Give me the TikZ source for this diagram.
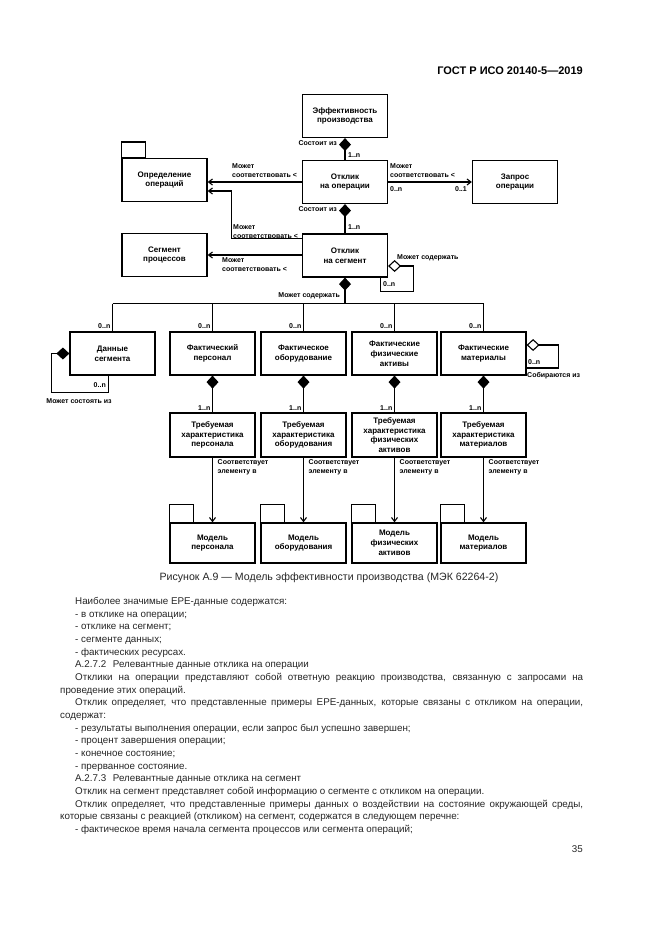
\documentclass[tikz,border=0pt]{standalone}
\usepackage{fontspec}
\setmainfont{Liberation Sans}
\usetikzlibrary{positioning,arrows.meta,calc}
\tikzset{
  blk/.style={draw,line width=1.2pt,minimum width=85pt,minimum height=43pt,inner sep=1pt,
    align=center,font=\fontsize{8}{9.8}\selectfont\bfseries},
  pkg/.style={line width=1.2pt},
  lnk/.style={line width=1.1pt},
  assoc/.style={lnk,-{Straight Barb[length=4pt,width=6pt]}},
  comp/.style={lnk,{Diamond[length=13pt,width=12pt]}-},
  aggr/.style={lnk,{Diamond[open,length=13pt,width=12pt]}-},
  lbl/.style={inner sep=0pt,align=left,font=\fontsize{7}{9}\selectfont\bfseries},
  body/.style={anchor=base west,inner sep=0pt,text=black!85,font=\fontsize{9.8}{12}\selectfont},
}
\begin{document}
\begin{tikzpicture}[x=1pt,y=-1pt]
  \fill[white] (0,0) rectangle (661,935);
  \useasboundingbox (0,0) rectangle (661,935);
  \node[anchor=base east,inner sep=0pt,font=\fontsize{11}{13}\selectfont\bfseries] (hdr) at (583,74) {ГОСТ Р ИСО 20140-5—2019};

  % upper part: performance, responses, definitions
  \node[blk] (eff) at (345,116) {Эффективность\\производства};
  \node[blk] (oresp) at (345,182) {Отклик\\на операции};
  \node[blk] (opdef) at (164.5,180) {Определение\\операций};
  \node[blk] (oreq) at (515,182) {Запрос\\операции};
  \node[blk] (sresp) at (345,255.5) {Отклик\\на сегмент};
  \node[blk] (pseg) at (164.5,255) {Сегмент\\процессов};
  \draw[pkg] (opdef.north west) rectangle ++(24,-16);

  \draw[comp] (eff.south) -- (oresp.north);
  \draw[comp] (oresp.south) -- (sresp.north);
  \draw[assoc] (oresp.west) -- (oresp.west -| opdef.east);
  \draw[assoc] (oresp.east) -- (oreq.west);
  \draw[assoc] ([yshift=-5pt]sresp.north west) -| ($(opdef.east)+(24,11)$) -- ($(opdef.east)+(0,11)$);
  \draw[assoc] (pseg.east -| sresp.west) -- (pseg.east);
  \draw[aggr] ([yshift=-10.5pt]sresp.east) -- ++(25,0) |- ([xshift=-8pt,yshift=-14pt]sresp.south east)
    -- ([xshift=-8pt]sresp.south east);

  \node[lbl,anchor=east] (c1) at (337,143) {Состоит из};
  \node[lbl,anchor=west] (k1) at (348,155) {1..n};
  \node[lbl,anchor=east] (c2) at (337,209) {Состоит из};
  \node[lbl,anchor=west] (k2) at (348,227) {1..n};
  \node[lbl,anchor=west] (s1) at (232,171) {Может\\соответствовать <};
  \node[lbl,anchor=west] (s2) at (390,171) {Может\\соответствовать <};
  \node[lbl,anchor=west] (k3) at (390,189) {0..n};
  \node[lbl,anchor=east] (k4) at (467,189) {0..1};
  \node[lbl,anchor=west] (s3) at (233,231.5) {Может\\соответствовать <};
  \node[lbl,anchor=west] (s4) at (222,265) {Может\\соответствовать <};
  \node[lbl,anchor=west] (h1) at (397,258) {Может содержать};
  \node[lbl,anchor=west] (k5) at (383,284) {0..n};
  \node[lbl,anchor=east] (h2) at (340,296) {Может содержать};

  % actual resources
  \node[blk] (segdata) at (112.5,353.5) {Данные\\сегмента};
  \node[blk] (persact) at (212.5,353.5) {Фактический\\персонал};
  \node[blk] (equipact) at (303.5,353.5) {Фактическое\\оборудование};
  \node[blk] (assetact) at (394.5,353.5) {Фактические\\физические\\активы};
  \node[blk] (matact) at (483.5,353.5) {Фактические\\материалы};

  \coordinate (hub) at ($(sresp.south)+(0,26)$);
  \draw[comp] (sresp.south) -- (hub);
  \draw[lnk] (segdata.north |- hub) -- (matact.north |- hub);
  \foreach \n in {segdata,persact,equipact,assetact,matact}{
    \draw[lnk] (\n.north |- hub) -- (\n.north);
    \node[lbl,anchor=south east] (z-\n) at ([xshift=-2pt,yshift=3pt]\n.north) {0..n};
  }
  \draw[comp] (segdata.west) -- ++(-18,0) |- ([xshift=-4pt,yshift=-17pt]segdata.south)
    -- ([xshift=-4pt]segdata.south);
  \node[lbl,anchor=east] (k6) at (106,385) {0..n};
  \node[lbl] (h3) at (79,401) {Может состоять из};
  \draw[aggr] ([yshift=8.5pt]matact.east) -- ++(32,0) |- ([yshift=-14.5pt]matact.east);
  \node[lbl,anchor=west] (k7) at (528,362) {0..n};
  \node[lbl,anchor=west] (h4) at (527,376) {Собираются из};

  % requirements and models
  \node[blk,minimum height=44pt] (persreq) at (212.5,435) {Требуемая\\характеристика\\персонала};
  \node[blk,minimum height=44pt] (equipreq) at (303.5,435) {Требуемая\\характеристика\\оборудования};
  \node[blk,minimum height=44pt] (assetreq) at (394.5,435) {Требуемая\\характеристика\\физических\\активов};
  \node[blk,minimum height=44pt] (matreq) at (483.5,435) {Требуемая\\характеристика\\материалов};
  \node[blk,minimum height=40pt] (persmod) at (212.5,543) {Модель\\персонала};
  \node[blk,minimum height=40pt] (equipmod) at (303.5,543) {Модель\\оборудования};
  \node[blk,minimum height=40pt] (assetmod) at (394.5,543) {Модель\\физических\\активов};
  \node[blk,minimum height=40pt] (matmod) at (483.5,543) {Модель\\материалов};

  \foreach \a/\b/\c in {persact/persreq/persmod,equipact/equipreq/equipmod,
                        assetact/assetreq/assetmod,matact/matreq/matmod}{
    \draw[comp] (\a.south) -- (\b.north);
    \draw[assoc] (\b.south) -- (\c.north);
    \draw[pkg] (\c.north west) rectangle ++(24,-18);
    \node[lbl,anchor=south east] (o-\b) at ([xshift=-2pt,yshift=2pt]\b.north) {1..n};
    \node[lbl,anchor=north west] (e-\b) at ([xshift=5pt,yshift=-2pt]\b.south) {Соответствует\\элементу в};
  }

  % caption and page text
  \node[inner sep=0pt,text=black!85,font=\fontsize{10.6}{12}\selectfont] (cap) at (329,578)
    {Рисунок А.9 — Модель эффективности производства (МЭК 62264-2)};
  \node[body] (t1) at (75,604.5) {Наиболее значимые ЕРЕ-данные содержатся:};
  \node[body] (t2) at (75,617.2) {- в отклике на операции;};
  \node[body] (t3) at (75,629.8) {- отклике на сегмент;};
  \node[body] (t4) at (75,642.5) {- сегменте данных;};
  \node[body] (t5) at (75,655.2) {- фактических ресурсах.};
  \node[body] (t6) at (75,667.8) {А.2.7.2\hspace{4pt} Релевантные данные отклика на операции};
  \node[body] (t7) at (75,680.5) {\makebox[508pt][s]{Отклики на операции представляют собой ответную реакцию производства, связанную с запросами на}};
  \node[body] (t8) at (60,693.2) {проведение этих операций.};
  \node[body] (t9) at (75,705.8) {\makebox[508pt][s]{Отклик определяет, что представленные примеры ЕРЕ-данных, которые связаны с откликом на операции,}};
  \node[body] (t10) at (60,718.5) {содержат:};
  \node[body] (t11) at (75,731.2) {- результаты выполнения операции, если запрос был успешно завершен;};
  \node[body] (t12) at (75,743.8) {- процент завершения операции;};
  \node[body] (t13) at (75,756.5) {- конечное состояние;};
  \node[body] (t14) at (75,769.2) {- прерванное состояние.};
  \node[body] (t15) at (75,781.8) {А.2.7.3\hspace{4pt} Релевантные данные отклика на сегмент};
  \node[body] (t16) at (75,794.5) {Отклик на сегмент представляет собой информацию о сегменте с откликом на операции.};
  \node[body] (t17) at (75,807.2) {\makebox[508pt][s]{Отклик определяет, что представленные примеры данных о воздействии на состояние окружающей среды,}};
  \node[body] (t18) at (60,819.8) {которые связаны с реакцией (откликом) на сегмент, содержатся в следующем перечне:};
  \node[body] (t19) at (75,832.5) {- фактическое время начала сегмента процессов или сегмента операций;};
  \node[body,anchor=base east] (pg) at (583,852.5) {35};
\end{tikzpicture}
\end{document}
